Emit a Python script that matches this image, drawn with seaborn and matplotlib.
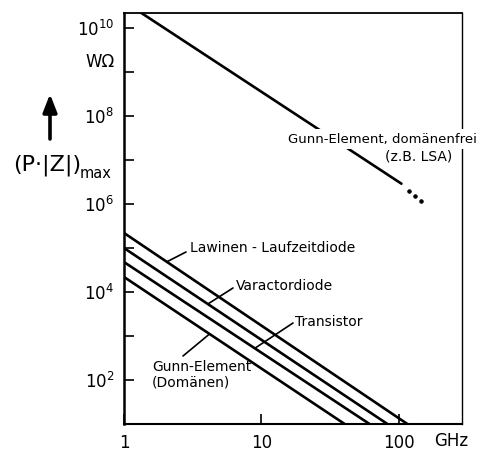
import numpy as np
import pandas as pd
import matplotlib
matplotlib.use("Agg")
import matplotlib.pyplot as plt
import seaborn as sns

# --- data -----------------------------------------------------------------
# frequency axis (GHz) and decade ticks
x_ticks = [1, 10, 100]
x_tick_labels = ["1", "10", "100"]
y_ticks = [1e2, 1e3, 1e4, 1e5, 1e6, 1e7, 1e8, 1e9, 1e10]
y_tick_labels = ["$\\mathregular{10^{2}}$", "", "$\\mathregular{10^{4}}$", "",
                 "$\\mathregular{10^{6}}$", "", "$\\mathregular{10^{8}}$", "",
                 "$\\mathregular{10^{10}}$"]

# (P*|Z|)max in W*Ohm, straight lines in log-log coordinates
lawinen_f = [1, 116]
lawinen_p = [2.2e5, 10]
varactor_f = [1, 83]
varactor_p = [1.0e5, 10]
transistor_f = [1, 61.5]
transistor_p = [4.8e4, 10]
gunn_dom_f = [1, 40.5]
gunn_dom_p = [2.2e4, 10]
gunn_free_f = [1, 105]
gunn_free_p = [4.0e10, 2.9e6]
gunn_free_dots_f = [120, 131, 147]
gunn_free_dots_p = [2.0e6, 1.5e6, 1.15e6]

devices = ["Lawinen - Laufzeitdiode", "Varactordiode", "Transistor",
           "Gunn-Element (Domänen)", "Gunn-Element, domänenfrei"]
series = [(lawinen_f, lawinen_p), (varactor_f, varactor_p),
          (transistor_f, transistor_p), (gunn_dom_f, gunn_dom_p),
          (gunn_free_f, gunn_free_p)]

df = pd.concat([pd.DataFrame({"f": f, "p": p, "device": name})
                for name, (f, p) in zip(devices, series)], ignore_index=True)


def on_line(f_pts, p_pts, f):
    """Value of the power-law line through two points at frequency f."""
    lf = np.log10(f_pts)
    lp = np.log10(p_pts)
    slope = (lp[1] - lp[0]) / (lf[1] - lf[0])
    return 10 ** (lp[0] + slope * (np.log10(f) - lf[0]))


# --- figure ---------------------------------------------------------------
sns.set_theme(style="ticks")
plt.rcParams["font.family"] = ["DejaVu Sans"]
plt.rcParams["mathtext.default"] = "regular"
plt.rcParams["text.color"] = "black"
plt.rcParams["xtick.color"] = "black"
plt.rcParams["ytick.color"] = "black"

W, H = 478, 453
fig = plt.figure(figsize=(W / 100, H / 100), dpi=100)
fig.patch.set_facecolor("white")
ax = fig.add_axes([124 / W, 1 - 424 / H, 338 / W, 411 / H])
ax.set_facecolor("white")

sns.lineplot(data=df, x="f", y="p", units="device", estimator=None,
             color="black", linewidth=1.9, legend=False, ax=ax, zorder=3)
sns.scatterplot(x=gunn_free_dots_f, y=gunn_free_dots_p, color="black",
                s=7, edgecolor="black", linewidth=0.5, ax=ax, zorder=3)

ax.set_xscale("log")
ax.set_yscale("log")
ax.set_xlim(1, 290)
ax.set_ylim(10, 2.2e10)
ax.minorticks_off()
ax.set_xticks(x_ticks)
ax.set_xticklabels(x_tick_labels)
ax.set_yticks(y_ticks)
ax.set_yticklabels(y_tick_labels)
ax.set_xlabel("")
ax.set_ylabel("")
ax.tick_params(axis="both", direction="in", length=7, width=1.2,
               color="black", labelcolor="black", labelsize=12)
ax.tick_params(axis="x", pad=7)
ax.tick_params(axis="y", pad=7)

for side, lw in (("left", 1.8), ("bottom", 1.5), ("top", 1.3), ("right", 1.0)):
    ax.spines[side].set_visible(True)
    ax.spines[side].set_color("black")
    ax.spines[side].set_linewidth(lw)


def fp(x, y):
    """Pixel position measured from the top-left corner of the figure."""
    return (x, H - y)


# axis title, unit and arrow
fig.text(13 / W, 1 - 165 / H, "(P·|Z|)", fontsize=16, va="center", ha="left",
         color="black")
fig.text(80 / W, 1 - 174 / H, "max", fontsize=10.5, va="center", ha="left",
         color="black")
fig.text(100 / W, 1 - 62 / H, "WΩ", fontsize=12, va="center", ha="center",
         color="black")
fig.text(451 / W, 1 - 441 / H, "GHz", fontsize=12, va="center", ha="center",
         color="black")
ax.annotate("", xy=fp(50, 94), xycoords="figure pixels",
            xytext=fp(50, 139), textcoords="figure pixels",
            arrowprops=dict(arrowstyle="-|>,head_length=0.9,head_width=0.35",
                            color="black", lw=2.6, shrinkA=0, shrinkB=0))

# line labels with leader lines
label_kw = dict(fontsize=10, color="black", xycoords="figure pixels",
                va="center", ha="left")

leaders = [
    (lawinen_f, lawinen_p, 2.05, (186, 252), "Lawinen - Laufzeitdiode", (190, 248)),
    (varactor_f, varactor_p, 4.08, (233, 288), "Varactordiode", (236, 286)),
    (transistor_f, transistor_p, 8.97, (293, 323), "Transistor", (295, 322)),
    (gunn_dom_f, gunn_dom_p, 4.2, (183, 356), "Gunn-Element", (152, 367)),
]
for f_pts, p_pts, f_hit, tail, text, pos in leaders:
    ax.annotate("", xy=(f_hit, on_line(f_pts, p_pts, f_hit)), xycoords="data",
                xytext=fp(*tail), textcoords="figure pixels",
                arrowprops=dict(arrowstyle="-", color="black", lw=1.2,
                                shrinkA=0, shrinkB=0))
    ax.annotate(text, xy=fp(*pos), **label_kw)
ax.annotate("(Domänen)", xy=fp(152, 383), **label_kw)

# label sitting on the domain-free Gunn line, masking it and the frame
ax.annotate("Gunn-Element, domänenfrei", xy=fp(477, 139), xycoords="figure pixels",
            fontsize=9.5, color="black", ha="right", va="center",
            annotation_clip=False, zorder=10,
            bbox=dict(boxstyle="square,pad=0.25", fc="white", ec="none"))
ax.annotate("(z.B. LSA)", xy=fp(419, 156), xycoords="figure pixels",
            fontsize=10, color="black", ha="center", va="center",
            annotation_clip=False, zorder=10)

fig.savefig("out.png", dpi=100, facecolor="white")
